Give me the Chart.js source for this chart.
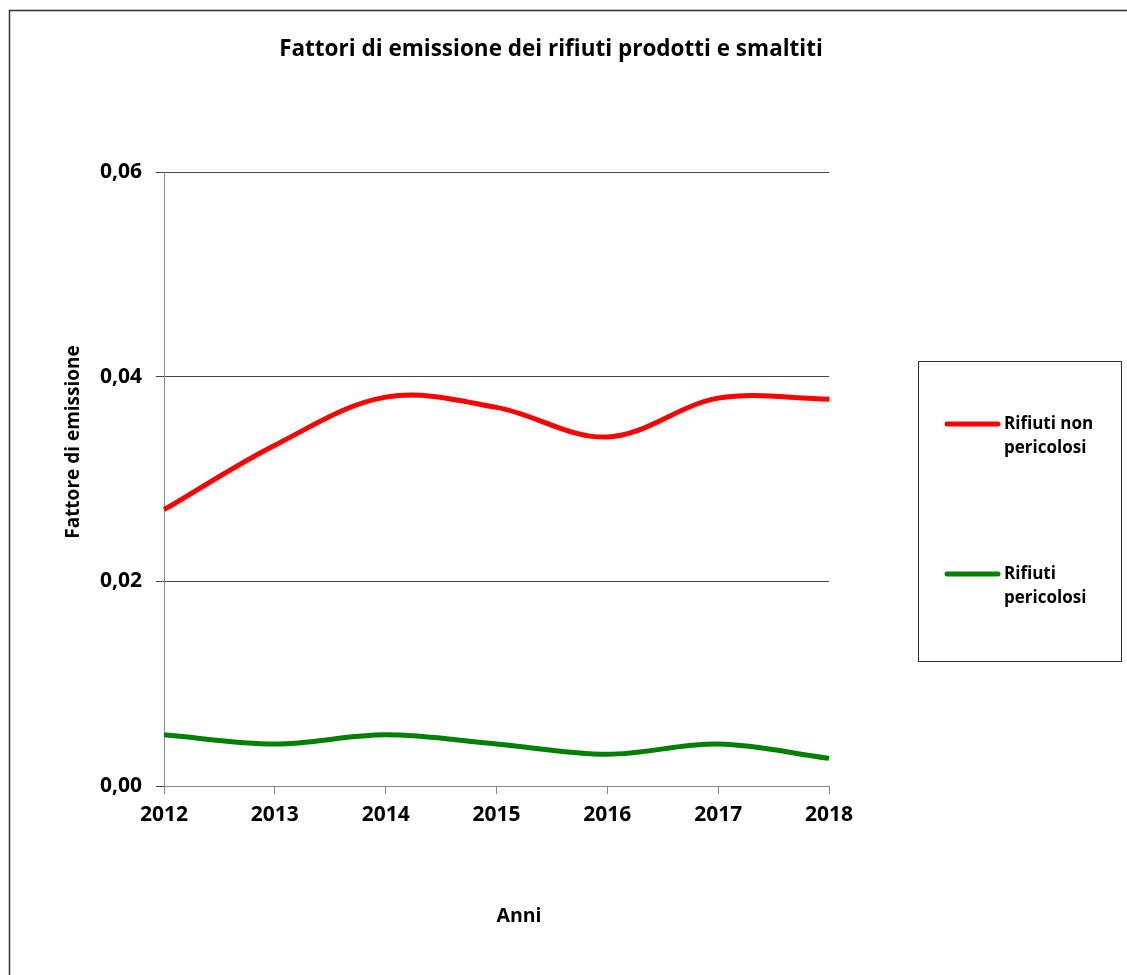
<!DOCTYPE html>
<html>
<head>
<meta charset="utf-8">
<script src="https://cdn.jsdelivr.net/npm/chart.js@4.4.1/dist/chart.umd.min.js"></script>
<style>
  html, body { margin: 0; padding: 0; background: #fff; }
  #wrap { position: absolute; left: 0; top: 0; width: 1127px; height: 975px; }
</style>
</head>
<body>
<div id="wrap"><canvas id="c" width="1127" height="975"></canvas></div>
<script>
// Emission factors per year
const years = ['2012', '2013', '2014', '2015', '2016', '2017', '2018'];
const nonPericolosi = [0.0270, 0.0333, 0.0380, 0.0370, 0.0341, 0.0379, 0.0378];
const pericolosi = [0.0050, 0.0041, 0.0050, 0.0041, 0.0031, 0.0041, 0.0027];
const seriesNames = [['Rifiuti non', 'pericolosi'], ['Rifiuti', 'pericolosi']];
const yTicks = [0, 0.02, 0.04, 0.06];

const titleText = 'Fattori di emissione dei rifiuti prodotti e smaltiti';
const yTitle = 'Fattore di emissione';
const xTitle = 'Anni';
const FONT = '"Open Sans", "Noto Sans", sans-serif';

// Frame, title, axis titles and the boxed legend
const decorations = {
  id: 'decorations',
  afterDraw(chart) {
    const ctx = chart.ctx;
    ctx.save();
    // outer frame (left and top edges)
    ctx.strokeStyle = '#333';
    ctx.lineWidth = 1.5;
    ctx.beginPath();
    ctx.moveTo(9.5, 975);
    ctx.lineTo(9.5, 10.5);
    ctx.lineTo(1127, 10.5);
    ctx.stroke();

    ctx.fillStyle = '#000';
    ctx.textAlign = 'center';
    ctx.textBaseline = 'middle';
    ctx.font = 'bold 22.5px ' + FONT;
    ctx.fillText(titleText, 551, 50);

    ctx.font = 'bold 19.5px ' + FONT;
    ctx.fillText(xTitle, 519, 916);
    ctx.save();
    ctx.translate(74, 442);
    ctx.rotate(-Math.PI / 2);
    ctx.font = 'bold 19px ' + FONT;
    ctx.fillText(yTitle, 0, 0);
    ctx.restore();

    // legend box
    ctx.strokeStyle = '#333';
    ctx.lineWidth = 1;
    ctx.strokeRect(918.5, 361.5, 203, 300);
    const rows = [424, 574];
    chart.data.datasets.forEach((ds, i) => {
      const y = rows[i];
      ctx.strokeStyle = ds.borderColor;
      ctx.lineWidth = 5;
      ctx.lineCap = 'round';
      ctx.beginPath();
      ctx.moveTo(947, y);
      ctx.lineTo(998, y);
      ctx.stroke();
      ctx.fillStyle = '#000';
      ctx.textAlign = 'left';
      ctx.font = 'bold 17px ' + FONT;
      seriesNames[i].forEach((t, k) => ctx.fillText(t, 1004, y + k * 24));
    });
    ctx.restore();
  }
};

new Chart(document.getElementById('c'), {
  type: 'line',
  data: {
    labels: years,
    datasets: [
      { label: seriesNames[0].join(' '), data: nonPericolosi, borderColor: '#ff0000', borderWidth: 5 },
      { label: seriesNames[1].join(' '), data: pericolosi, borderColor: '#008000', borderWidth: 5 }
    ]
  },
  options: {
    responsive: false,
    animation: false,
    devicePixelRatio: 1,
    layout: { padding: { left: 0, top: 172, right: 298, bottom: 0 } },
    elements: {
      point: { radius: 0 },
      line: { tension: 0.35, borderCapStyle: 'butt', borderJoinStyle: 'round' }
    },
    plugins: { legend: { display: false }, title: { display: false }, tooltip: { enabled: false } },
    scales: {
      x: {
        offset: false,
        grid: { drawOnChartArea: false, drawTicks: true, tickLength: 8, color: '#888' },
        border: { color: '#888', width: 1 },
        ticks: { color: '#000', font: { family: FONT, size: 21, weight: 'bold' }, padding: 8, maxRotation: 0 },
        afterFit(s) { s.height = 189; }
      },
      y: {
        min: 0,
        max: 0.06,
        afterBuildTicks(s) { s.ticks = yTicks.map(v => ({ value: v })); },
        grid: { color: '#444', tickLength: 8, lineWidth: 1 },
        border: { color: '#888', width: 1 },
        ticks: {
          color: '#000',
          font: { family: FONT, size: 21, weight: 'bold' },
          padding: 14,
          callback: v => v.toFixed(2).replace('.', ',')
        },
        afterFit(s) { s.width = 164; }
      }
    }
  },
  plugins: [decorations]
});
</script>
</body>
</html>
